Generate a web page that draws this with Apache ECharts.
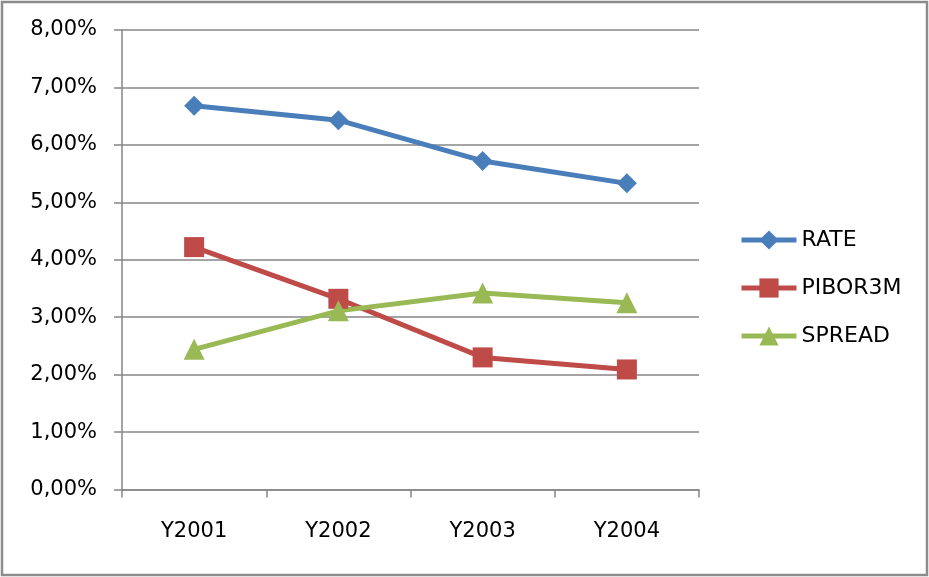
<!DOCTYPE html>
<html>
<head>
<meta charset="utf-8">
<script src="https://cdn.jsdelivr.net/npm/echarts@6/dist/echarts.min.js"></script>
<style>
  html, body { margin: 0; padding: 0; background: #fff; }
  #chart { width: 929px; height: 577px; }
</style>
</head>
<body>
<div id="chart"></div>
<script>
// Data
const categories = ['Y2001', 'Y2002', 'Y2003', 'Y2004'];
const rateValues = [0.0668, 0.0643, 0.0572, 0.0533];
const piborValues = [0.0422, 0.0332, 0.0230, 0.0209];
const spreadValues = [0.0244, 0.0311, 0.0342, 0.0325];

const axisGray = '#868686';
const textFont = 'DejaVu Sans';

function pct(v) {
    return (v * 100).toFixed(2).replace('.', ',') + '%';
}

function lineSeries(name, data, color, symbol, size) {
    return {
        name,
        type: 'line',
        data,
        symbol,
        symbolSize: size,
        lineStyle: { color, width: 5 },
        itemStyle: { color },
        z: 3
    };
}

const chart = echarts.init(document.getElementById('chart'));

chart.setOption({
    animation: false,
    backgroundColor: '#fff',
    grid: { left: 122, right: 230, top: 30, bottom: 87.5 },
    legend: {
        orient: 'vertical',
        left: 739,
        top: 229,
        padding: 0,
        itemWidth: 55,
        itemHeight: 24,
        itemGap: 26,
        lineStyle: { width: 5 },
        textStyle: { fontFamily: textFont, fontSize: 22, lineHeight: 22, color: '#000' },
        data: ['RATE', 'PIBOR3M', 'SPREAD']
    },
    xAxis: {
        type: 'category',
        data: categories,
        boundaryGap: true,
        axisLine: { lineStyle: { color: axisGray, width: 1.5 } },
        axisTick: { show: true, length: 8, lineStyle: { color: axisGray, width: 1.5 } },
        axisLabel: { fontFamily: textFont, fontSize: 21, color: '#000', margin: 32 },
        splitLine: { show: false }
    },
    yAxis: {
        type: 'value',
        min: 0,
        max: 0.08,
        interval: 0.01,
        axisLine: { show: true, lineStyle: { color: axisGray, width: 1.5 } },
        axisTick: { show: true, length: 8, lineStyle: { color: axisGray, width: 1.5 } },
        axisLabel: { fontFamily: textFont, fontSize: 21, color: '#000', margin: 25, formatter: pct },
        splitLine: { lineStyle: { color: axisGray, width: 1.5 } }
    },
    series: [
        lineSeries('RATE', rateValues, '#4a7ebb', 'diamond', 20),
        lineSeries('PIBOR3M', piborValues, '#be4b48', 'rect', 20),
        lineSeries('SPREAD', spreadValues, '#98b954', 'triangle', 21)
    ],
    graphic: [{
        type: 'rect',
        shape: { x: 2, y: 2, width: 925, height: 573 },
        style: { fill: 'none', stroke: '#8c8c8c', lineWidth: 2.5 },
        silent: true
    }]
});
</script>
</body>
</html>
